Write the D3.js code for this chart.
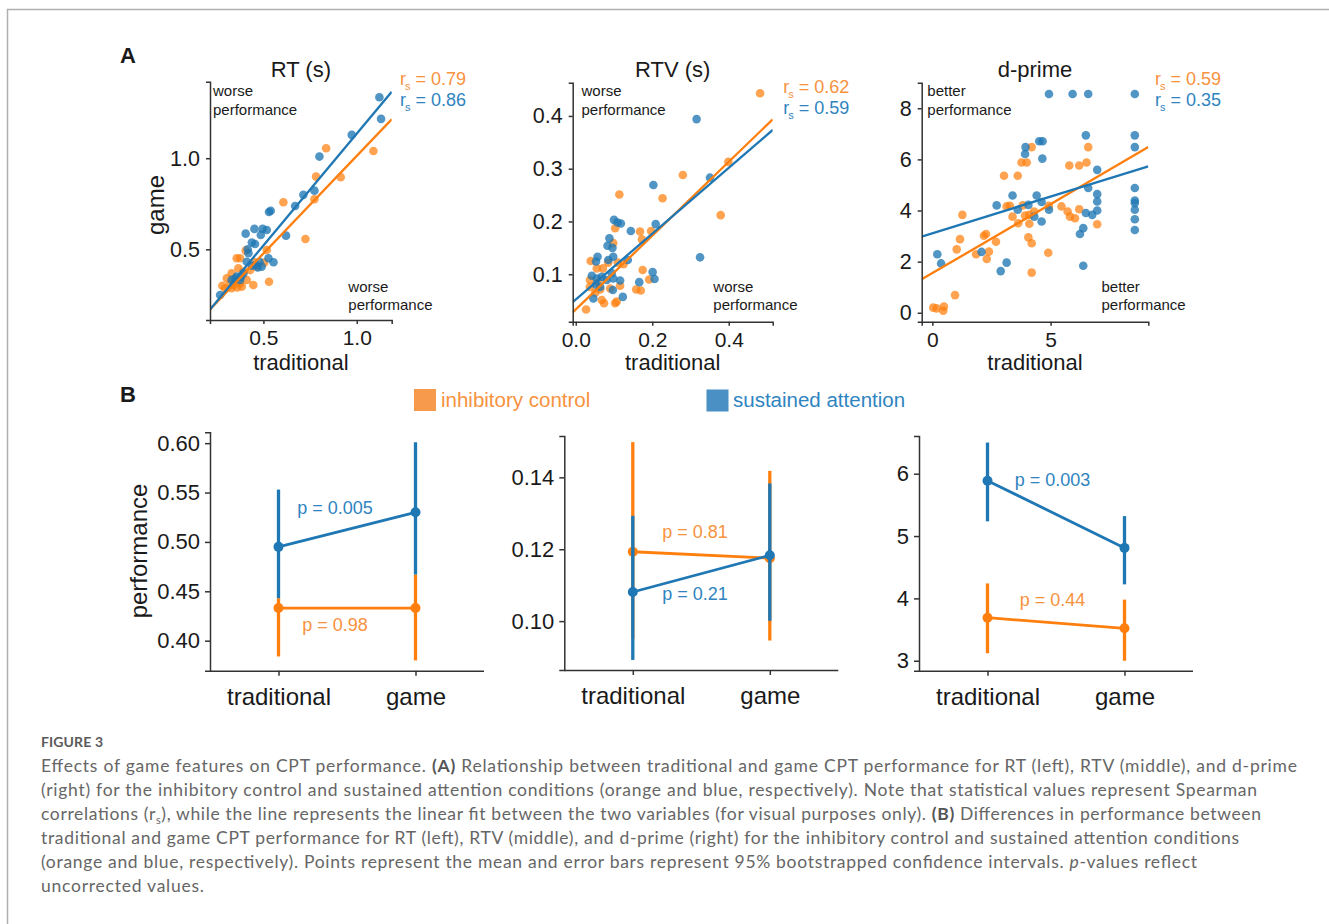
<!DOCTYPE html>
<html><head><meta charset="utf-8">
<script src="https://cdn.jsdelivr.net/npm/d3@7"></script>
<style>body{margin:0;background:#fff}</style>
</head><body><svg id="c" width="1329" height="924"></svg>
<script>
// ---------------- DATA ----------------
// Panel A: scatter data [traditional, game]
const rtInhibitory = [[1.089,1.040],[0.836,1.055],[0.782,0.899],[0.914,0.896],[0.773,0.775],[0.607,0.758],[0.725,0.557],[0.405,0.493],[0.518,0.496],[0.357,0.451],[0.375,0.451],[0.504,0.427],[0.464,0.405],[0.429,0.386],[0.393,0.377],[0.366,0.396],[0.330,0.368],[0.304,0.341],[0.348,0.332],[0.375,0.313],[0.411,0.332],[0.446,0.304],[0.530,0.322],[0.295,0.286],[0.330,0.286],[0.384,0.295],[0.339,0.304],[0.280,0.300],[0.320,0.310],[0.360,0.290],[0.450,0.430]];
const rtSustained = [[1.121,1.335],[1.130,1.216],[0.973,1.128],[0.800,1.009],[0.773,0.822],[0.714,0.799],[0.670,0.738],[0.530,0.705],[0.539,0.712],[0.621,0.575],[0.405,0.586],[0.452,0.612],[0.496,0.612],[0.518,0.606],[0.486,0.579],[0.438,0.537],[0.455,0.529],[0.416,0.500],[0.554,0.429],[0.527,0.451],[0.479,0.432],[0.491,0.405],[0.411,0.432],[0.420,0.478],[0.393,0.368],[0.375,0.332],[0.330,0.332],[0.268,0.249],[0.357,0.350],[0.459,0.414],[0.440,0.410],[0.470,0.400],[0.380,0.350],[0.350,0.340]];
const rtvInhibitory = [[0.482,0.443],[0.399,0.313],[0.280,0.288],[0.379,0.212],[0.227,0.244],[0.114,0.251],[0.103,0.187],[0.098,0.159],[0.197,0.182],[0.168,0.181],[0.173,0.166],[0.110,0.122],[0.125,0.119],[0.175,0.108],[0.192,0.090],[0.039,0.125],[0.055,0.111],[0.071,0.111],[0.085,0.122],[0.037,0.089],[0.059,0.084],[0.090,0.073],[0.051,0.065],[0.068,0.051],[0.074,0.045],[0.103,0.045],[0.107,0.048],[0.027,0.033],[0.064,0.071],[0.158,0.071],[0.170,0.069],[0.116,0.078],[0.037,0.076]];
const rtvSustained = [[0.316,0.394],[0.325,0.132],[0.351,0.283],[0.203,0.269],[0.209,0.195],[0.100,0.203],[0.109,0.198],[0.118,0.196],[0.144,0.182],[0.088,0.168],[0.083,0.154],[0.096,0.150],[0.057,0.133],[0.085,0.127],[0.098,0.133],[0.136,0.127],[0.053,0.124],[0.201,0.104],[0.206,0.091],[0.166,0.085],[0.042,0.097],[0.055,0.092],[0.068,0.095],[0.081,0.089],[0.098,0.092],[0.116,0.088],[0.097,0.070],[0.123,0.057],[0.046,0.054],[0.053,0.080],[0.064,0.076],[0.094,0.102]];
const dpInhibitory = [[0.04,0.20],[0.18,0.17],[0.49,0.24],[0.46,0.08],[0.96,0.69],[1.03,2.48],[1.17,2.88],[1.27,3.83],[1.85,2.29],[2.18,3.01],[2.27,3.08],[2.30,2.10],[2.39,2.39],[2.69,2.78],[3.03,5.36],[3.14,4.16],[3.28,4.18],[3.39,3.76],[3.61,5.36],[3.63,3.50],[3.77,5.88],[3.99,5.88],[4.20,6.48],[3.82,4.20],[3.92,3.80],[4.10,3.83],[4.30,3.96],[4.10,3.48],[4.06,2.95],[4.20,2.72],[4.20,1.57],[4.90,2.35],[4.93,4.18],[5.46,4.16],[5.72,3.96],[5.82,3.76],[6.03,3.70],[5.79,5.76],[6.21,5.76],[6.52,5.88],[6.59,6.48],[6.21,4.05],[6.97,3.46]];
const dpSustained = [[0.21,2.29],[0.37,1.93],[2.08,2.38],[2.72,4.20],[2.89,1.63],[3.14,1.96],[3.39,4.59],[3.61,4.03],[3.92,6.21],[3.94,6.48],[4.06,4.22],[4.31,3.76],[4.41,4.59],[4.52,6.71],[4.66,6.71],[4.62,4.33],[4.62,3.57],[4.65,6.03],[4.93,4.03],[4.93,8.56],[5.93,8.56],[6.59,8.56],[8.56,8.56],[6.49,6.94],[6.59,4.88],[6.49,3.90],[6.76,3.83],[6.24,3.08],[6.38,3.31],[6.38,1.84],[6.97,5.59],[6.97,4.64],[6.97,4.35],[6.97,4.00],[8.56,6.94],[8.56,6.48],[8.56,4.88],[8.56,4.39],[8.56,4.29],[8.56,4.03],[8.56,3.66],[8.56,3.24]];
// linear fits [slope, intercept]
const rtFitInhibitory = [1.072, -0.059];
const rtFitSustained = [1.228, -0.093];
const rtvFitInhibitory = [0.700, 0.033];
const rtvFitSustained = [0.624, 0.052];
const dpFitInhibitory = [0.540, 1.550];
const dpFitSustained = [0.287, 3.110];
// Spearman labels
const rtRs = ["0.79", "0.86"];
const rtvRs = ["0.62", "0.59"];
const dpRs = ["0.59", "0.35"];
// tick values
const rtTicks = [0.5, 1.0];
const rtvXTicks = [0.0, 0.2, 0.4];
const rtvYTicks = [0.1, 0.2, 0.3, 0.4];
const dpXTicks = [0, 5];
const dpYTicks = [0, 2, 4, 6, 8];

// Panel B: means and 95% CIs per category
const categories = ["traditional", "game"];
const rtMeanInhibitory = [0.433, 0.433], rtLowInhibitory = [0.384, 0.380], rtHighInhibitory = [0.443, 0.467];
const rtMeanSustained = [0.495, 0.530], rtLowSustained = [0.443, 0.467], rtHighSustained = [0.553, 0.601];
const rtvMeanInhibitory = [0.1193, 0.1175], rtvLowInhibitory = [0.095, 0.0946], rtvHighInhibitory = [0.1498, 0.1418];
const rtvMeanSustained = [0.1081, 0.1183], rtvLowSustained = [0.0892, 0.1001], rtvHighSustained = [0.1293, 0.1383];
const dpMeanInhibitory = [3.69, 3.52], dpLowInhibitory = [3.12, 3.00], dpHighInhibitory = [4.24, 3.98];
const dpMeanSustained = [5.888, 4.81], dpLowSustained = [5.236, 4.225], dpHighSustained = [6.50, 5.32];
const pRT = ["0.98", "0.005"], pRTV = ["0.81", "0.21"], pDP = ["0.44", "0.003"];
const bRtTicks = [0.40, 0.45, 0.50, 0.55, 0.60];
const bRtvTicks = [0.10, 0.12, 0.14];
const bDpTicks = [3, 4, 5, 6];
const legendLabels = ["inhibitory control", "sustained attention"];

// ---------------- DRAW ----------------
const FONT = "'Liberation Sans', Arial, Helvetica, sans-serif";
const ORANGE = "#ff7f0e", BLUE = "#1f77b4";
const ORANGE_T = "#f7923e", BLUE_T = "#2f84bf";
const svg = d3.select("#c");
svg.append("rect").attr("width", 1329).attr("height", 924).attr("fill", "#fff");
svg.append("path").attr("d", "M7.5,924 V9.5 H1329").attr("fill", "none").attr("stroke", "#b0b0b0").attr("stroke-width", 1.5);

function styleAxis(g, fs) {
  g.attr("font-family", FONT).attr("font-size", fs);
  g.select(".domain").attr("stroke", "#333").attr("stroke-width", 1.5);
  g.selectAll(".tick line").attr("stroke", "#333").attr("stroke-width", 1.5);
  g.selectAll(".tick text").attr("fill", "#1a1a1a");
}
function txt(x, y, s, opts = {}) {
  return svg.append("text").attr("x", x).attr("y", y).text(s)
    .attr("font-family", FONT).attr("font-size", opts.fs || 15)
    .attr("fill", opts.fill || "#1a1a1a").attr("text-anchor", opts.anchor || "start")
    .attr("font-weight", opts.fw || "normal");
}
function rsLabel(x, y, val, color) {
  const t = svg.append("text").attr("x", x).attr("y", y).attr("font-family", FONT).attr("font-size", 18).attr("fill", color);
  t.append("tspan").text("r");
  t.append("tspan").attr("font-size", 11).attr("dy", 5).attr("dx", -1).text("s");
  t.append("tspan").attr("dy", -5).text(" = " + val);
}
let clipId = 0;
function scatter(o) {
  const x = d3.scaleLinear().domain(o.xDomain).range([o.left, o.right]);
  const y = d3.scaleLinear().domain(o.yDomain).range([o.bottom, o.top]);
  const id = "clip" + (clipId++);
  svg.append("clipPath").attr("id", id).append("rect")
    .attr("x", o.left).attr("y", o.top).attr("width", o.right - o.left).attr("height", o.bottom - o.top);
  const g = svg.append("g");
  g.selectAll(null).data(o.inh).join("circle").attr("cx", d => x(d[0])).attr("cy", d => y(d[1]))
    .attr("r", 4.3).attr("fill", ORANGE).attr("fill-opacity", 0.72);
  g.selectAll(null).data(o.sus).join("circle").attr("cx", d => x(d[0])).attr("cy", d => y(d[1]))
    .attr("r", 4.3).attr("fill", BLUE).attr("fill-opacity", 0.78);
  const line = d3.line().x(d => x(d[0])).y(d => y(d[1]));
  [[o.fitInh, ORANGE], [o.fitSus, BLUE]].forEach(([f, c]) => {
    const pts = o.xDomain.map(v => [v, f[0] * v + f[1]]);
    g.append("path").attr("d", line(pts)).attr("stroke", c).attr("stroke-width", 2.3)
      .attr("fill", "none").attr("clip-path", `url(#${id})`);
  });
  const ax = svg.append("g").attr("transform", `translate(0,${o.bottom})`)
    .call(d3.axisBottom(x).tickValues(o.xTicks).tickFormat(d3.format(o.xFmt)).tickSizeOuter(0).tickSize(4).tickPadding(6));
  styleAxis(ax, 21);
  const ay = svg.append("g").attr("transform", `translate(${o.left},0)`)
    .call(d3.axisLeft(y).tickValues(o.yTicks).tickFormat(d3.format(o.yFmt)).tickSizeOuter(0).tickSize(4).tickPadding(6));
  styleAxis(ay, 21.5);
  const cx = (o.left + o.right) / 2;
  txt(cx, 77, o.title, { fs: 22, anchor: "middle" });
  txt(cx, 370, "traditional", { fs: 22, anchor: "middle" });
  txt(o.tl[0], 96, o.ann, { fs: 15 });
  txt(o.tl[0], 114.5, "performance", { fs: 15 });
  txt(o.br[0], 291.5, o.ann, { fs: 15 });
  txt(o.br[0], 310, "performance", { fs: 15 });
  rsLabel(o.rs[0], o.rs[1], o.rsVals[0], ORANGE_T);
  rsLabel(o.rs[0], o.rs[1] + 21.5, o.rsVals[1], BLUE_T);
}

scatter({ left: 210, right: 391.7, top: 81.7, bottom: 320, xDomain: [0.214, 1.187], yDomain: [0.112, 1.42],
  xTicks: rtTicks, yTicks: rtTicks, xFmt: ".1f", yFmt: ".1f", inh: rtInhibitory, sus: rtSustained,
  fitInh: rtFitInhibitory, fitSus: rtFitSustained, title: "RT (s)", ann: "worse", tl: [213], br: [348.3],
  rs: [400, 84.5], rsVals: rtRs });
scatter({ left: 572.7, right: 772.7, top: 82.7, bottom: 321.7, xDomain: [-0.008, 0.515], yDomain: [0.010, 0.463],
  xTicks: rtvXTicks, yTicks: rtvYTicks, xFmt: ".1f", yFmt: ".1f", inh: rtvInhibitory, sus: rtvSustained,
  fitInh: rtvFitInhibitory, fitSus: rtvFitSustained, title: "RTV (s)", ann: "worse", tl: [581.5], br: [713.3],
  rs: [783.3, 92.5], rsVals: rtvRs });
scatter({ left: 921.7, right: 1148.3, top: 82.7, bottom: 321.7, xDomain: [-0.45, 9.13], yDomain: [-0.35, 9.0],
  xTicks: dpXTicks, yTicks: dpYTicks, xFmt: "d", yFmt: "d", inh: dpInhibitory, sus: dpSustained,
  fitInh: dpFitInhibitory, fitSus: dpFitSustained, title: "d-prime", ann: "better", tl: [927.3], br: [1101.5],
  rs: [1155, 84.5], rsVals: dpRs });

// y label for A
svg.append("text").attr("transform", "translate(163.5,205) rotate(-90)").attr("text-anchor", "middle")
  .attr("font-family", FONT).attr("font-size", 24).attr("fill", "#1a1a1a").text("game");
// panel letters
txt(120, 63, "A", { fs: 22, fw: "bold" });
txt(120, 402, "B", { fs: 22, fw: "bold" });

// legend
svg.append("rect").attr("x", 414).attr("y", 389).attr("width", 22).attr("height", 22).attr("fill", "#f79a4c");
txt(441, 406.5, legendLabels[0], { fs: 20.5, fill: ORANGE_T });
svg.append("rect").attr("x", 706.5).attr("y", 389.5).attr("width", 22).attr("height", 22).attr("fill", "#4a90c4");
txt(733, 406.5, legendLabels[1], { fs: 20.5, fill: BLUE_T });

function pointPanel(o) {
  const x = d3.scalePoint().domain(categories).range([o.left, o.left + 274]).padding(0.5);
  const y = d3.scaleLinear().domain(o.yDomain).range([o.bottom, o.top]);
  const g = svg.append("g");
  const series = [
    { mean: o.mInh, lo: o.lInh, hi: o.hInh, c: ORANGE },
    { mean: o.mSus, lo: o.lSus, hi: o.hSus, c: BLUE }
  ];
  series.forEach(s => {
    g.selectAll(null).data(categories).join("line")
      .attr("x1", d => x(d)).attr("x2", d => x(d))
      .attr("y1", (d, i) => y(s.lo[i])).attr("y2", (d, i) => y(s.hi[i]))
      .attr("stroke", s.c).attr("stroke-width", 3.3);
    g.append("path").attr("d", d3.line().x((d, i) => x(categories[i])).y(d => y(d))(s.mean))
      .attr("stroke", s.c).attr("stroke-width", 2.8).attr("fill", "none");
    g.selectAll(null).data(s.mean).join("circle").attr("cx", (d, i) => x(categories[i])).attr("cy", d => y(d))
      .attr("r", 5).attr("fill", s.c);
  });
  const ax = svg.append("g").attr("transform", `translate(0,${o.bottom})`)
    .call(d3.axisBottom(x).tickSizeOuter(0).tickSize(5).tickPadding(12));
  ax.select(".domain").attr("d", `M${o.left},0.5H${o.left + 274}`);
  styleAxis(ax, 24);
  const ay = svg.append("g").attr("transform", `translate(${o.left},0)`)
    .call(d3.axisLeft(y).tickValues(o.yTicks).tickFormat(d3.format(o.fmt)).tickSizeOuter(0).tickSize(5).tickPadding(5));
  styleAxis(ay, 22);
  txt(o.pInh[0], o.pInh[1], "p = " + o.pVals[0], { fs: 18, anchor: "middle", fill: ORANGE_T });
  txt(o.pSus[0], o.pSus[1], "p = " + o.pVals[1], { fs: 18, anchor: "middle", fill: BLUE_T });
}
pointPanel({ left: 210, top: 432.3, bottom: 670.7, yDomain: [0.3696, 0.611], yTicks: bRtTicks, fmt: ".2f",
  mInh: rtMeanInhibitory, lInh: rtLowInhibitory, hInh: rtHighInhibitory,
  mSus: rtMeanSustained, lSus: rtLowSustained, hSus: rtHighSustained,
  pVals: pRT, pInh: [335, 630.5], pSus: [335, 514] });
pointPanel({ left: 564.3, top: 436, bottom: 670, yDomain: [0.0864, 0.1515], yTicks: bRtvTicks, fmt: ".2f",
  mInh: rtvMeanInhibitory, lInh: rtvLowInhibitory, hInh: rtvHighInhibitory,
  mSus: rtvMeanSustained, lSus: rtvLowSustained, hSus: rtvHighSustained,
  pVals: pRTV, pInh: [695, 538], pSus: [695, 600] });
pointPanel({ left: 919, top: 436, bottom: 670.7, yDomain: [2.84, 6.605], yTicks: bDpTicks, fmt: "d",
  mInh: dpMeanInhibitory, lInh: dpLowInhibitory, hInh: dpHighInhibitory,
  mSus: dpMeanSustained, lSus: dpLowSustained, hSus: dpHighSustained,
  pVals: pDP, pInh: [1052.5, 605.5], pSus: [1052.5, 485.5] });
svg.append("text").attr("transform", "translate(146.7,551) rotate(-90)").attr("text-anchor", "middle")
  .attr("font-family", FONT).attr("font-size", 24).attr("fill", "#1a1a1a").text("performance");

// ---------------- CAPTION ----------------
const CFONT = "Lato, 'Open Sans', sans-serif";
svg.append("text").attr("x", 41).attr("y", 747).attr("font-family", CFONT).attr("font-size", 14)
  .attr("font-weight", 700).attr("fill", "#5a5a5a").attr("textLength", 62).attr("lengthAdjust", "spacing").text("FIGURE 3");
const captionLines = [
  [[["Effects of game features on CPT performance. "], ["(A)", "b"], [" Relationship between traditional and game CPT performance for RT (left), RTV (middle), and d-prime"]], 1256],
  [[["(right) for the inhibitory control and sustained attention conditions (orange and blue, respectively). Note that statistical values represent Spearman"]], 1216],
  [[["correlations (r"], ["s", "sub"], ["), while the line represents the linear fit between the two variables (for visual purposes only). "], ["(B)", "b"], [" Differences in performance between"]], 1220],
  [[["traditional and game CPT performance for RT (left), RTV (middle), and d-prime (right) for the inhibitory control and sustained attention conditions"]], 1198],
  [[["(orange and blue, respectively). Points represent the mean and error bars represent 95% bootstrapped confidence intervals. "], ["p", "i"], ["-values reflect"]], 1156],
  [[["uncorrected values."]], 163]
];
captionLines.forEach(([parts, len], k) => {
  const t = svg.append("text").attr("x", 41).attr("y", 772 + 24 * k).attr("font-family", CFONT)
    .attr("font-size", 17.5).attr("fill", "#666").attr("textLength", len).attr("lengthAdjust", "spacing");
  let shifted = false;
  parts.forEach(([s, st]) => {
    const ts = t.append("tspan").text(s);
    if (st === "b") ts.attr("font-weight", 700).attr("fill", "#555");
    if (st === "i") ts.attr("font-style", "italic");
    if (st === "sub") { ts.attr("font-size", 11).attr("dy", 4); shifted = true; }
    else if (shifted) { ts.attr("dy", -4); shifted = false; }
  });
});
</script></body></html>
